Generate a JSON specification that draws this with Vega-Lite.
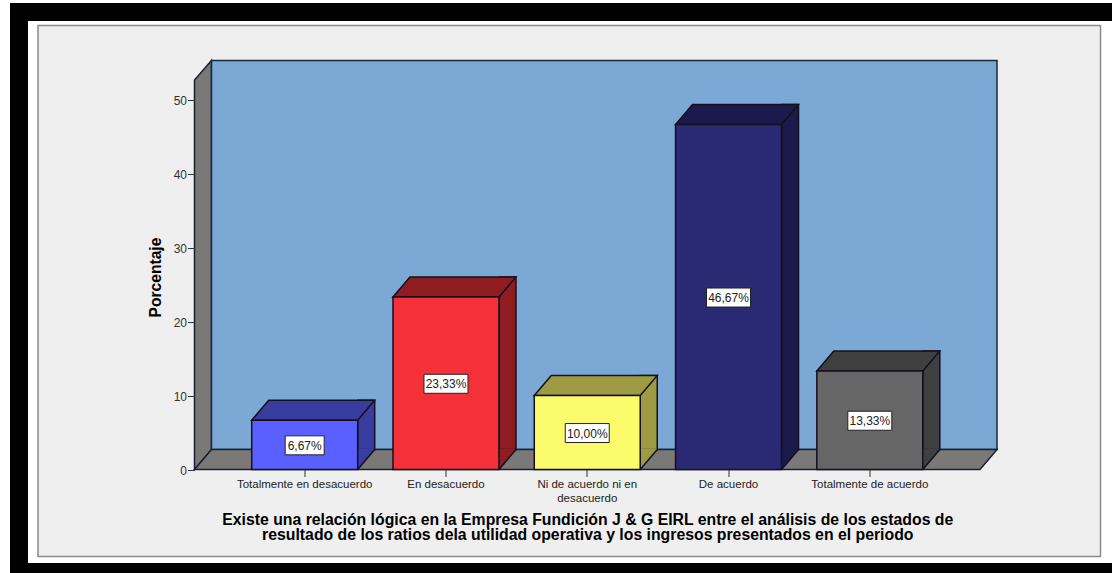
{"$schema":"https://vega.github.io/schema/vega-lite/v6.json","width":785.5,"height":389.5,"autosize":{"type":"none"},"padding":{"left":194.5,"top":80,"right":132,"bottom":103.5},"background":"#ffffff","config":{"view":{"stroke":null},"font":"Liberation Sans"},
"data":{"values":[{"categoria":"Totalmente en desacuerdo","porcentaje":6.67,"etiqueta":"6,67%"},{"categoria":"En desacuerdo","porcentaje":23.33,"etiqueta":"23,33%"},{"categoria":"Ni de acuerdo ni en desacuerdo","porcentaje":10,"etiqueta":"10,00%"},{"categoria":"De acuerdo","porcentaje":46.67,"etiqueta":"46,67%"},{"categoria":"Totalmente de acuerdo","porcentaje":13.33,"etiqueta":"13,33%"}]},
"resolve":{"scale":{"y":"independent","fill":"independent"},"axis":{"y":"independent","x":"independent"}},
"layer":[
{"data":{"values":[{"parte":"marco"}]},"mark":{"type":"point","filled":true,"opacity":1,"size":4,"fill":"#000000","strokeWidth":0,"shape":"M-577.25,-271.75L524.75,-271.75L524.75,-253.75L-559.25,-253.75L-559.25,288.25L524.75,288.25L524.75,298.25L-577.25,298.25Z"},"encoding":{}},
{"data":{"values":[{"parte":"panel"}]},"mark":{"type":"point","filled":true,"opacity":1,"size":4,"fill":"#efefef","stroke":"#8a8a8a","strokeWidth":1.5,"shape":"M-549.25,-249.25L513.25,-249.25L513.25,281.75L-549.25,281.75Z"},"encoding":{}},
{"data":{"values":[{"parte":"pared izquierda"}]},"mark":{"type":"point","filled":true,"opacity":1,"size":4,"fill":"#7b7878","stroke":"#1a2030","strokeWidth":1.5,"shape":"M-392.75,194.75L-375.75,174.75L-375.75,-214.25L-392.75,-194.75Z"},"encoding":{}},
{"data":{"values":[{"parte":"pared fondo"}]},"mark":{"type":"point","filled":true,"opacity":1,"size":4,"fill":"#7ca8d6","stroke":"#16283c","strokeWidth":1.5,"shape":"M-375.75,174.75L409.75,174.75L409.75,-214.25L-375.75,-214.25Z"},"encoding":{}},
{"data":{"values":[{"parte":"suelo"}]},"mark":{"type":"point","filled":true,"opacity":1,"size":4,"fill":"#7b7878","stroke":"#1a2030","strokeWidth":1.5,"shape":"M-392.75,194.75L392.75,194.75L409.75,174.75L-375.75,174.75Z"},"encoding":{}},
{"mark":{"type":"bar","stroke":"#14101e","strokeWidth":1.5,"width":17,"xOffset":61.5,"yOffset":-20,"y2Offset":-20},"encoding":{"x":{"field":"categoria","type":"nominal","sort":null,"axis":null,"scale":{"paddingInner":0.25,"paddingOuter":0.405}},"y":{"field":"porcentaje","type":"quantitative","axis":null,"scale":{"domain":[0,52.7]}},"fill":{"field":"categoria","type":"nominal","legend":null,"scale":{"domain":["Totalmente en desacuerdo","En desacuerdo","Ni de acuerdo ni en desacuerdo","De acuerdo","Totalmente de acuerdo"],"range":["#3a3da0","#8e1c21","#9e9b44","#1a1a4c","#3f3f3f"]}}}},
{"mark":{"type":"point","filled":true,"opacity":1,"size":4,"strokeWidth":0,"shape":"M53,0L69.4,-19.3L69.4,-21L53,-21Z"},"encoding":{"x":{"field":"categoria","type":"nominal","sort":null,"axis":null,"scale":{"paddingInner":0.25,"paddingOuter":0.405}},"y":{"datum":0,"type":"quantitative","axis":null,"scale":{"domain":[0,52.7]}},"fill":{"field":"categoria","type":"nominal","legend":null,"scale":{"domain":["Totalmente en desacuerdo","En desacuerdo","Ni de acuerdo ni en desacuerdo","De acuerdo","Totalmente de acuerdo"],"range":["#3a3da0","#8e1c21","#9e9b44","#1a1a4c","#3f3f3f"]}}}},
{"mark":{"type":"point","filled":false,"opacity":1,"size":4,"stroke":"#14101e","strokeWidth":1.5,"shape":"M53,0L70,-20"},"encoding":{"x":{"field":"categoria","type":"nominal","sort":null,"axis":null,"scale":{"paddingInner":0.25,"paddingOuter":0.405}},"y":{"datum":0,"type":"quantitative","axis":null,"scale":{"domain":[0,52.7]}}}},
{"mark":{"type":"point","filled":true,"opacity":1,"size":4,"stroke":"#14101e","strokeWidth":1.5,"shape":"M-53,0L53,0L70,-20L-36,-20Z"},"encoding":{"x":{"field":"categoria","type":"nominal","sort":null,"axis":null,"scale":{"paddingInner":0.25,"paddingOuter":0.405}},"y":{"field":"porcentaje","type":"quantitative","axis":null,"scale":{"domain":[0,52.7]}},"fill":{"field":"categoria","type":"nominal","legend":null,"scale":{"domain":["Totalmente en desacuerdo","En desacuerdo","Ni de acuerdo ni en desacuerdo","De acuerdo","Totalmente de acuerdo"],"range":["#3a3da0","#8e1c21","#9e9b44","#1a1a4c","#3f3f3f"]}}}},
{"mark":{"type":"bar","stroke":"#14101e","strokeWidth":1.5},"encoding":{"x":{"field":"categoria","type":"nominal","sort":null,"scale":{"paddingInner":0.25,"paddingOuter":0.405},"axis":{"zindex":1,"orient":"bottom","title":["Existe una relación lógica en la Empresa Fundición J & G EIRL entre el análisis de los estados de","resultado de los ratios dela utilidad operativa y los ingresos presentados en el periodo"],"titleFont":"Liberation Sans","titleFontSize":15.8,"titleFontWeight":"bold","titleColor":"#000000","titleLineHeight":15,"titlePadding":9,"labelAngle":0,"labelFont":"Liberation Sans","labelFontSize":11.5,"labelColor":"#222222","labelPadding":2,"labelLimit":200,"labelBaseline":"top","labelExpr":"datum.value == 'Ni de acuerdo ni en desacuerdo' ? ['Ni de acuerdo ni en','desacuerdo'] : datum.label","tickSize":7,"tickColor":"#333333","domain":false,"grid":false}},"y":{"field":"porcentaje","type":"quantitative","scale":{"domain":[0,52.7]},"axis":{"zindex":1,"title":"Porcentaje","titleFont":"Liberation Sans","titleFontSize":15.6,"titleFontWeight":"bold","titleColor":"#000000","titlePadding":10,"titleY":197,"values":[0,10,20,30,40,50],"labelFont":"Liberation Sans","labelFontSize":12,"labelColor":"#333333","labelPadding":1,"labelOffset":1,"tickSize":7,"tickColor":"#333333","domain":false,"grid":false}},"fill":{"field":"categoria","type":"nominal","legend":null,"scale":{"domain":["Totalmente en desacuerdo","En desacuerdo","Ni de acuerdo ni en desacuerdo","De acuerdo","Totalmente de acuerdo"],"range":["#5a5fff","#f43139","#fbfb6c","#292974","#666666"]}}}},
{"mark":{"type":"point","filled":true,"opacity":1,"size":4,"fill":"#ffffff","stroke":"#222222","strokeWidth":1,"shape":"M-22,-9L22,-9L22,10L-22,10Z"},"encoding":{"x":{"field":"categoria","type":"nominal","sort":null,"axis":null,"scale":{"paddingInner":0.25,"paddingOuter":0.405}},"y":{"field":"porcentaje","type":"quantitative","axis":null,"scale":{"domain":[0,105.4]}},"shape":{"condition":{"test":"datum.porcentaje < 10","value":"M-19.5,-9L19.5,-9L19.5,10L-19.5,10Z"},"value":"M-22,-9L22,-9L22,10L-22,10Z"}}},
{"mark":{"type":"text","font":"Liberation Sans","fontSize":12,"color":"#222222","baseline":"middle","align":"center","dy":1},"encoding":{"x":{"field":"categoria","type":"nominal","sort":null,"axis":null,"scale":{"paddingInner":0.25,"paddingOuter":0.405}},"y":{"field":"porcentaje","type":"quantitative","axis":null,"scale":{"domain":[0,105.4]}},"text":{"field":"etiqueta","type":"nominal"}}}
]}
